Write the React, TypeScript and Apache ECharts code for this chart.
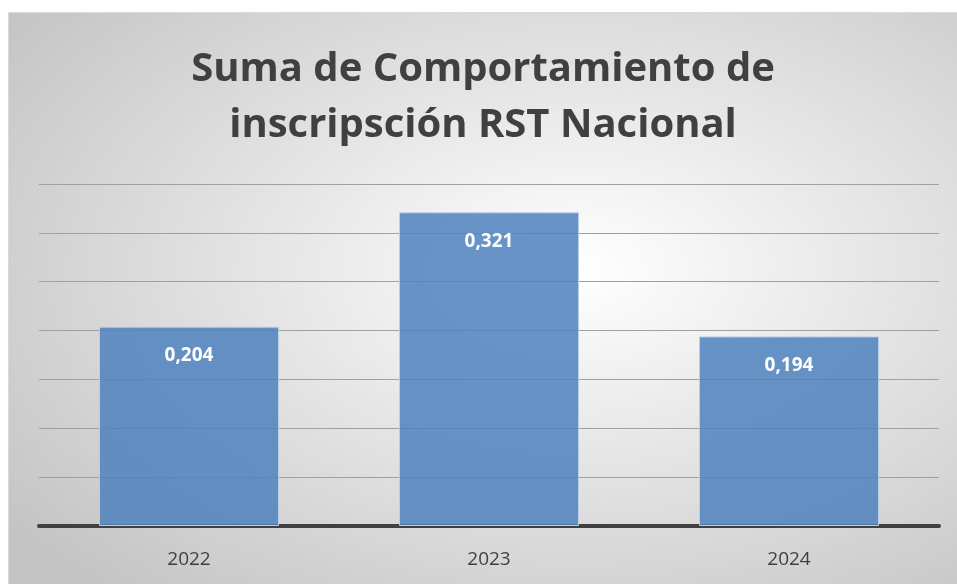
import React, { useEffect, useRef } from "react";
import * as echarts from "echarts";

const titleLines = ["Suma de Comportamiento de", "inscripsción RST Nacional"];
const categories = ["2022", "2023", "2024"];
const values = [0.204, 0.321, 0.194];
const yMin = 0;
const yMax = 0.35;
const yInterval = 0.05;

export default function App() {
  const ref = useRef<HTMLDivElement>(null);
  useEffect(() => {
    if (!ref.current) return;
    const chart = echarts.init(ref.current, undefined, { renderer: "svg" });
    chart.setOption({
      animation: false,
      backgroundColor: {
        type: "radial",
        x: 0.6,
        y: 0.45,
        r: 0.75,
        colorStops: [
          { offset: 0, color: "#ffffff" },
          { offset: 1, color: "#c4c4c4" },
        ],
      },
      title: {
        text: titleLines.join("\n"),
        left: "center",
        top: 19,
        textStyle: {
          fontFamily: "Open Sans",
          fontWeight: "bold",
          fontSize: 40,
          lineHeight: 56,
          color: "#404040",
        },
      },
      grid: { left: 30, right: 18, top: 171, bottom: 58 },
      xAxis: {
        type: "category",
        data: categories,
        axisLine: { lineStyle: { color: "#404040", width: 4 } },
        axisTick: { show: false },
        axisLabel: {
          fontFamily: "Open Sans",
          fontSize: 19,
          color: "#404040",
          margin: 22,
        },
      },
      yAxis: {
        type: "value",
        min: yMin,
        max: yMax,
        interval: yInterval,
        axisLabel: { show: false },
        axisLine: { show: false },
        axisTick: { show: false },
        splitLine: { lineStyle: { color: "#a0a0a0", width: 1 } },
      },
      series: [
        {
          type: "bar",
          data: values,
          barWidth: "60%",
          itemStyle: {
            color: "rgba(79,129,189,0.85)",
            borderColor: "#b9cde5",
            borderWidth: 1,
          },
          label: {
            show: true,
            position: "insideTop",
            distance: 18,
            fontFamily: "Open Sans",
            fontWeight: "bold",
            fontSize: 19,
            color: "#ffffff",
            formatter: (p: any) => p.value.toFixed(3).replace(".", ","),
          },
        },
      ],
    });
    return () => chart.dispose();
  }, []);
  return (
    <div
      ref={ref}
      style={{
        position: "fixed",
        left: 8,
        top: 12,
        width: 949,
        height: 572,
        borderTop: "1px solid #d9d9d9",
        borderLeft: "1px solid #d9d9d9",
        boxSizing: "border-box",
      }}
    />
  );
}
